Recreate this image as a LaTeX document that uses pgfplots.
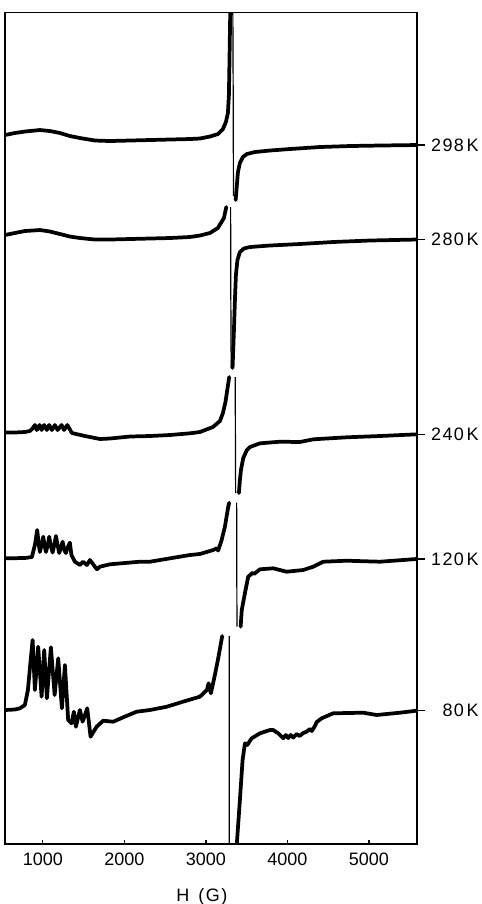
\documentclass[border=0pt]{standalone}
\usepackage{fontspec}
\setmainfont{Liberation Sans}
\newfontfamily\lbl[LetterSpace=8]{Liberation Sans}
\usepackage{pgfplots}
\pgfplotsset{compat=1.18}
\begin{document}
\begin{tikzpicture}
\useasboundingbox (-3.75pt,-45pt) rectangle (357.75pt,633pt);
\begin{axis}[at={(0,0)},anchor=south west, scale only axis,
  width=309pt, height=623.6pt,
  xmin=535,xmax=5590,ymin=-844,ymax=-12.5,
  xtick={1000,2000,3000,4000,5000}, ytick=\empty,
  tick align=inside, xtick pos=bottom, major tick length=3pt,
  axis line style={line width=1pt},
  every tick/.style={line width=0.9pt,black},
  xticklabel style={font=\fontsize{13.5}{16}\selectfont, yshift=-3pt},
  /pgf/number format/assume math mode=true,
  /pgf/number format/set thousands separator={},
  clip mode=individual,
  spec/.style={black,line width=2.8pt,line join=round,line cap=round},
  thn/.style={black,line width=0.9pt,line join=round}]
% ---------- 298 K ----------
\addplot[spec] coordinates {(534,-135)(656,-133)(779,-131.5)(963,-130)(1086,-131)(1209,-133)(1331,-136)(1454,-138)(1638,-140.5)(1822,-141)(2067,-140.5)(2313,-140)(2558,-139.5)(2804,-139)(2926,-138.5)(3049,-136.5)(3147,-134)(3209,-129)(3245,-122)(3270,-113)(3282,-95)(3288,-67)(3300,-5)};
\addplot[thn] coordinates {(3330,-5)(3335,-100)(3338,-196)};
\addplot[spec] coordinates {(3365,-200)(3380,-185)(3393,-172)(3417,-163)(3454,-157)(3503,-154)(3601,-152)(3785,-150.5)(4031,-149)(4399,-147)(4767,-146)(5135,-145.5)(5589,-145)};
% ---------- 280 K ----------
\addplot[spec] coordinates {(534,-235)(656,-233)(779,-231)(963,-230)(1086,-231.5)(1209,-234)(1331,-236.5)(1454,-238)(1638,-239.5)(1822,-239.5)(2067,-239)(2313,-238.5)(2558,-238)(2804,-237)(2926,-235.5)(3049,-233)(3147,-228)(3221,-218)(3250,-207)};
\addplot[thn] coordinates {(3303,-207)(3306,-300)(3310,-368)};
\addplot[spec] coordinates {(3327,-368)(3344,-330)(3356,-300)(3368,-275)(3387,-260)(3417,-252)(3466,-248.5)(3540,-247)(3785,-245.5)(4153,-244)(4558,-242)(5012,-240.5)(5589,-239.5)};
% ---------- 240 K ----------
\addplot[spec] coordinates {(534,-432.5)(656,-432.5)(779,-432)(841,-431)(877,-428)(902,-425)(925,-430)(960,-425)(984,-430)(1016,-425)(1049,-430)(1077,-425)(1110,-430)(1147,-425)(1180,-430)(1229,-425)(1260,-430)(1300,-425)(1356,-433)(1515,-436)(1699,-439)(1822,-438.5)(2067,-436.5)(2313,-436)(2558,-435)(2804,-433.3)(2926,-432)(3086,-427)(3172,-421)(3209,-413)(3240,-402)(3262,-390)(3286,-377)};
\addplot[thn] coordinates {(3360,-377)(3362,-440)(3365,-493)};
\addplot[spec] coordinates {(3405,-493)(3417,-480)(3430,-470)(3458,-458)(3503,-450)(3540,-447)(3663,-443.3)(3908,-441.7)(4153,-442)(4317,-439.3)(4726,-437.3)(5135,-436)(5589,-434.3)};
% ---------- 120 K ----------
\addplot[spec] coordinates {(534,-558.3)(779,-558)(865,-557)(902,-545)(930,-530)(950,-545)(963,-552)(984,-545)(1004,-536.7)(1020,-545)(1037,-552)(1060,-545)(1077,-536.7)(1095,-545)(1119,-552.5)(1140,-545)(1160,-536)(1180,-545)(1200,-553)(1220,-548)(1242,-541.7)(1262,-550)(1282,-553)(1300,-548)(1331,-542.7)(1350,-555)(1393,-561.7)(1454,-565)(1491,-561.7)(1540,-565)(1577,-560)(1663,-569.3)(1699,-566.7)(1822,-564.3)(2190,-561.7)(2313,-561.7)(2804,-555)(2926,-554)(3090,-550)(3131,-548.3)(3150,-550.5)(3193,-540)(3233,-526.7)(3274,-506.7)(3286,-502.7)};
\addplot[thn] coordinates {(3377,-502.7)(3379,-570)(3381,-626.7)};
\addplot[spec] coordinates {(3426,-626.7)(3440,-610)(3479,-593)(3519,-576.7)(3575,-572.7)(3590,-574)(3663,-569.3)(3826,-568.3)(3990,-571.7)(4194,-570)(4317,-566.7)(4439,-561.7)(4726,-560.7)(5135,-561.7)(5585,-559)};
% ---------- 80 K ----------
\addplot[spec] coordinates {(534,-710)(656,-709.5)(718,-708.3)(779,-705)(816,-690)(850,-660)(874,-640)(902,-690)(942,-646.7)(984,-696.7)(1016,-650)(1049,-698.3)(1098,-647.3)(1144,-695)(1188,-658.3)(1233,-708.3)(1270,-665)(1310,-720)(1352,-723.3)(1380,-711.7)(1405,-726.7)(1454,-710)(1487,-721.7)(1544,-708.3)(1585,-736.7)(1659,-726.7)(1740,-720.7)(1863,-721.7)(1985,-717.3)(2150,-711.7)(2313,-710)(2521,-706.7)(2718,-701.7)(2926,-696.7)(3012,-690)(3033,-683.3)(3061,-693.3)(3110,-675)(3147,-660)(3184,-643.3)(3200,-636)};
\addplot[thn] coordinates {(3286,-636)(3286,-750)(3287,-860)};
\addplot[spec] coordinates {(3368,-860)(3380,-843)(3417,-800)(3450,-760)(3479,-743.3)(3507,-745)(3561,-738.3)(3663,-733.3)(3785,-730)(3826,-730)(3887,-733.3)(3949,-738.3)(3980,-735)(4010,-738)(4040,-735)(4071,-737.5)(4113,-734)(4150,-736)(4194,-733)(4236,-731.7)(4276,-729)(4300,-731)(4337,-726)(4360,-722)(4420,-718.3)(4562,-713.3)(4930,-712.7)(5095,-715)(5380,-712.7)(5585,-710.7)};
% ---------- labels ----------
\draw[line width=0.9pt] (axis cs:5590,-145) -- (axis cs:5687,-145);
\draw[line width=0.9pt] (axis cs:5590,-239.5) -- (axis cs:5687,-239.5);
\draw[line width=0.9pt] (axis cs:5590,-434.3) -- (axis cs:5687,-434.3);
\draw[line width=0.9pt] (axis cs:5590,-559) -- (axis cs:5687,-559);
\draw[line width=0.9pt] (axis cs:5590,-710.7) -- (axis cs:5687,-710.7);
\begin{scope}[every node/.style={font=\lbl\fontsize{13.5}{16}\selectfont, anchor=east, inner sep=0pt}]
\node at (axis cs:6350,-145) {298\hspace{0.15em}K};
\node at (axis cs:6350,-239.5) {280\hspace{0.15em}K};
\node at (axis cs:6350,-434.3) {240\hspace{0.15em}K};
\node at (axis cs:6350,-559) {120\hspace{0.15em}K};
\node at (axis cs:6350,-710.7) {80\hspace{0.15em}K};
\node[anchor=center] at (axis cs:2951,-897) {H\hspace{0.5em}(G)};
\end{scope}
\end{axis}
\end{tikzpicture}
\end{document}
